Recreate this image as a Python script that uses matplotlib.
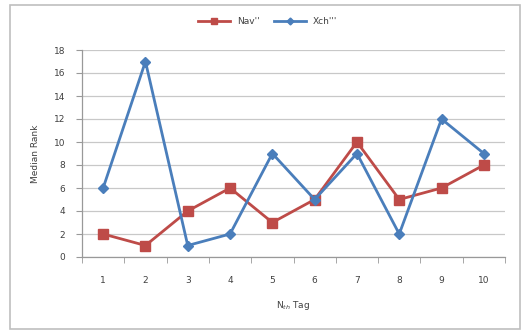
import matplotlib
matplotlib.use("Agg")
import matplotlib.pyplot as plt
from matplotlib.patches import Rectangle
import numpy as np

categories = ["1", "2", "3", "4", "5", "6", "7", "8", "9", "10"]
nav = [2, 1, 4, 6, 3, 5, 10, 5, 6, 8]
xch = [6, 17, 1, 2, 9, 5, 9, 2, 12, 9]
yticks = [0, 2, 4, 6, 8, 10, 12, 14, 16, 18]

fig = plt.figure(figsize=(5.22, 3.30), dpi=100)
ax = fig.add_axes([82/522, (330-257)/330, (505-82)/522, (257-50)/330])

x = np.arange(len(categories))
red = "#BE4B48"
blue = "#4A7EBB"
ax.plot(x, nav, color=red, lw=2.0, marker="s", ms=6.5, label="Nav''", zorder=3)
ax.plot(x, xch, color=blue, lw=2.0, marker="D", ms=5, label="Xch'''", zorder=3)

ax.set_xlim(-0.5, len(categories) - 0.5)
ax.set_ylim(0, 18)
ax.set_yticks(yticks)
ax.set_xticks(x)
ax.set_xticklabels(categories)
ax.set_xticks(np.arange(-0.5, len(categories)), minor=True)
ax.tick_params(axis="x", which="major", length=0, labelsize=6.5, pad=14, colors="#404040")
ax.tick_params(axis="x", which="minor", length=4, color="#999999", direction="out")
ax.tick_params(axis="y", length=4, color="#999999", labelsize=6.5, labelcolor="#404040", pad=8)
ax.grid(axis="y", color="#C8C8C8", lw=0.9)
ax.set_axisbelow(True)
for s in ["top", "right"]:
    ax.spines[s].set_visible(False)
for s in ["left", "bottom"]:
    ax.spines[s].set_color("#999999")
    ax.spines[s].set_linewidth(0.9)

ax.set_ylabel("Median Rank", fontsize=6.5, color="#404040", labelpad=10)
ax.set_xlabel("N$_{th}$ Tag", fontsize=6.5, color="#404040", labelpad=10)

fig.legend(loc="center", bbox_to_anchor=(268/522, 1 - 22/330), ncol=2, frameon=False,
           fontsize=6.5, handlelength=3.5, columnspacing=1.6, labelcolor="#404040",
           markerscale=0.7)

fig.patches.append(Rectangle((10/522, 1/330), 510/522, 324/330, transform=fig.transFigure,
                             fill=False, edgecolor="#BFBFBF", lw=1.2))

fig.savefig("out.png", dpi=100)
